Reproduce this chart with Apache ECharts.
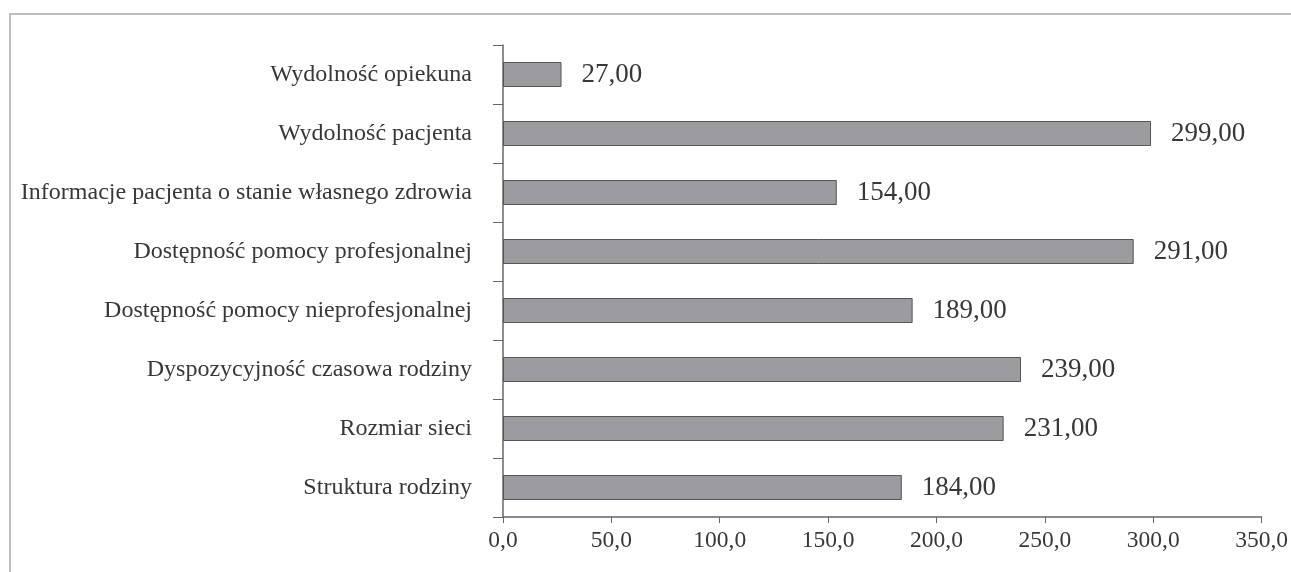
<!DOCTYPE html>
<html style="height: 100%">
<head>
    <meta charset="utf-8">
    <script type="text/javascript" src="https://cdn.jsdelivr.net/npm/echarts@6/dist/echarts.min.js"></script>
</head>
<body style="height: 100%; margin: 0; background: #fff">
<div id="container" style="width: 1291px; height: 572px"></div>
<script type="text/javascript">
    var categories = [
        'Wydolność opiekuna',
        'Wydolność pacjenta',
        'Informacje pacjenta o stanie własnego zdrowia',
        'Dostępność pomocy profesjonalnej',
        'Dostępność pomocy nieprofesjonalnej',
        'Dyspozycyjność czasowa rodziny',
        'Rozmiar sieci',
        'Struktura rodziny'
    ];
    var values = [27, 299, 154, 291, 189, 239, 231, 184];

    var font = 'Liberation Serif';
    var myChart = echarts.init(document.getElementById('container'));
    var option = {
        animation: false,
        backgroundColor: '#fff',
        // ramka wykresu (ucięta z prawej i z dołu)
        graphic: [{
            type: 'rect',
            shape: { x: 10, y: 14, width: 1300, height: 600 },
            style: { fill: 'none', stroke: '#a9a9a9', lineWidth: 1.5 },
            silent: true
        }],
        grid: { left: 503, right: 29, top: 45, bottom: 55 },
        xAxis: {
            type: 'value',
            min: 0,
            max: 350,
            interval: 50,
            splitLine: { show: false },
            axisLine: { show: true, lineStyle: { color: '#666', width: 1.5 } },
            axisTick: { show: true, length: 6, lineStyle: { color: '#666' } },
            axisLabel: {
                margin: 12,
                color: '#383838',
                fontFamily: font,
                fontSize: 23.5,
                formatter: function (v) { return v.toFixed(1).replace('.', ','); }
            }
        },
        yAxis: {
            type: 'category',
            inverse: true,
            data: categories,
            axisLine: { show: true, lineStyle: { color: '#666', width: 1.5 } },
            axisTick: { show: true, length: 10, lineStyle: { color: '#666' } },
            axisLabel: {
                margin: 31,
                color: '#383838',
                fontFamily: font,
                fontSize: 24
            }
        },
        series: [{
            type: 'bar',
            data: values,
            barWidth: 25,
            itemStyle: { color: '#9b9ba0', borderColor: '#555', borderWidth: 1 },
            label: {
                show: true,
                position: 'right',
                distance: 20,
                color: '#383838',
                fontFamily: font,
                fontSize: 27,
                formatter: function (p) { return p.value.toFixed(2).replace('.', ','); }
            }
        }]
    };
    myChart.setOption(option);
</script>
</body>
</html>
